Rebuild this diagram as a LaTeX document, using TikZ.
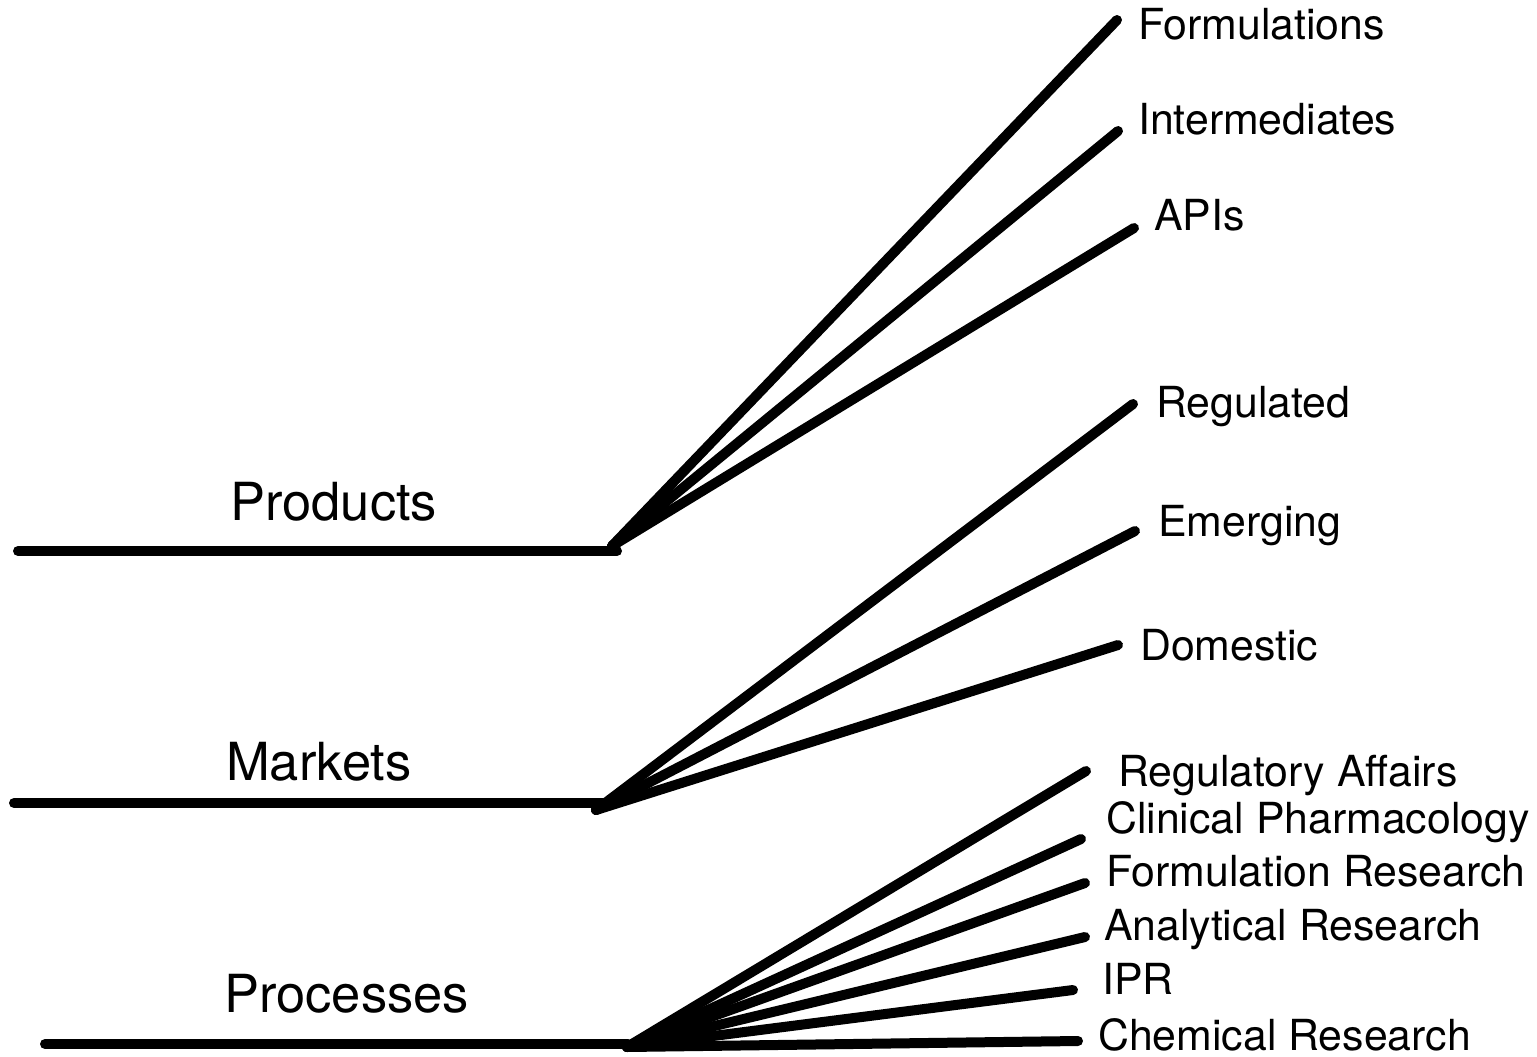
\documentclass[tikz,border=0pt]{standalone}
\usepackage{fontspec}
\setmainfont{TeX Gyre Heros}
\tikzset{
  stem/.style={line width=10pt, line cap=round},
  leaf/.style={anchor=base west, inner sep=0pt, font=\fontsize{42.8pt}{50pt}\selectfont},
  group/.style={anchor=base west, inner sep=0pt, font=\fontsize{52.5pt}{60pt}\selectfont},
}
\begin{document}
\begin{tikzpicture}[x=1pt, y=-1pt]
    \useasboundingbox (0,0) rectangle (1537,1057);

    % Base lines and branching points
    \coordinate (P0) at (18,551);
    \coordinate (P1) at (617,551);
    \coordinate (PH) at (612,546);
    \coordinate (M0) at (14,803);
    \coordinate (M1) at (603,803);
    \coordinate (MH) at (596,810);
    \coordinate (R0) at (45,1044);
    \coordinate (R1) at (628,1044);
    \coordinate (RH) at (627,1047);

    % Branch ends
    \coordinate (fo) at (1117,20);
    \coordinate (in) at (1118,131);
    \coordinate (ap) at (1134,228);
    \coordinate (rg) at (1133,404);
    \coordinate (em) at (1135,531);
    \coordinate (dm) at (1118,645);
    \coordinate (ra) at (1086,771);
    \coordinate (cp) at (1081,839);
    \coordinate (fr) at (1085,883);
    \coordinate (ar) at (1085,937);
    \coordinate (ip) at (1073,990);
    \coordinate (cr) at (1078,1041);

    % Group labels
    \node[group] (products)  at (230,520)  {Products};
    \node[group] (markets)   at (226,780)  {Markets};
    \node[group] (processes) at (224,1012) {Processes};

    % Branch labels
    \node[leaf] (formulations) at (1138,40)   {Formulations};
    \node[leaf] (intermediates) at (1138,134) {Intermediates};
    \node[leaf] (apis)       at (1154,230)  {APIs};
    \node[leaf] (regulated)  at (1156,417)  {Regulated};
    \node[leaf] (emerging)   at (1158,536)  {Emerging};
    \node[leaf] (domestic)   at (1140,660)  {Domestic};
    \node[leaf] (regaffairs) at (1118,786)  {Regulatory Affairs};
    \node[leaf] (clinpharm)  at (1106,833)  {Clinical Pharmacology};
    \node[leaf] (formres)    at (1106,886)  {Formulation Research};
    \node[leaf] (anares)     at (1104,940)  {Analytical Research};
    \node[leaf] (ipr)        at (1102,994)  {IPR};
    \node[leaf] (chemres)    at (1098,1050) {Chemical Research};

    % Products
    \draw[stem] (P0) -- (P1);
    \draw[stem] (PH) -- (fo);
    \draw[stem] (PH) -- (in);
    \draw[stem] (PH) -- (ap);

    % Markets
    \draw[stem] (M0) -- (M1);
    \draw[stem] (MH) -- (rg);
    \draw[stem] (MH) -- (em);
    \draw[stem] (MH) -- (dm);

    % Processes
    \draw[stem] (R0) -- (R1);
    \draw[stem] (RH) -- (ra);
    \draw[stem] (RH) -- (cp);
    \draw[stem] (RH) -- (fr);
    \draw[stem] (RH) -- (ar);
    \draw[stem] (RH) -- (ip);
    \draw[stem] (RH) -- (cr);

\end{tikzpicture}
\end{document}
